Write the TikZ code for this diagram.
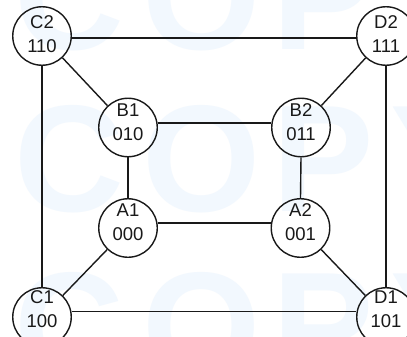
\documentclass[tikz,border=0pt]{standalone}
\usepackage{fontspec}
\setmainfont{Liberation Sans}
\definecolor{wm}{RGB}{242,248,254}
\definecolor{ink}{RGB}{25,25,25}
\begin{document}
\begin{tikzpicture}[x=1pt,y=-1pt,
  vertex/.style={circle, draw=ink, line width=1.4pt, minimum size=58.5pt, inner sep=0pt},
  lbl/.style={align=center, font=\fontsize{18.5}{24}\selectfont, text=ink, inner sep=0pt},
  edge/.style={draw=ink, line width=1.4pt},
  wmark/.style={font=\fontsize{152}{152}\bfseries\selectfont, text=wm, anchor=base west, inner sep=0pt}]
\path[use as bounding box, clip] (0,0) rectangle (407,337);
\fill[white] (0,0) rectangle (407,337);
% watermark
\foreach \r/\y in {1/50, 2/211, 3/378}{
  \node[wmark] (wC\r) at (14,\y) {C};
  \node[wmark] (wO\r) at (142,\y) {O};
  \node[wmark] (wP\r) at (272,\y) {P};
  \node[wmark] (wY\r) at (390,\y) {Y};
}
% vertices
\node[vertex, label={[lbl, yshift=2pt]center:{C2\\110}}] (C2) at (42,36) {};
\node[vertex, label={[lbl, yshift=2pt]center:{D2\\111}}] (D2) at (386,36) {};
\node[vertex, label={[lbl, yshift=5pt]center:{B1\\010}}] (B1) at (128,127.5) {};
\node[vertex, label={[lbl, yshift=5pt]center:{B2\\011}}] (B2) at (301,127.5) {};
\node[vertex, label={[lbl, yshift=5.5pt]center:{A1\\000}}] (A1) at (128,228) {};
\node[vertex, label={[lbl, yshift=5.5pt]center:{A2\\001}}] (A2) at (300.5,228) {};
\node[vertex, label={[lbl, yshift=8pt]center:{C1\\100}}] (C1) at (42,317) {};
\node[vertex, label={[lbl, yshift=8pt]center:{D1\\101}}] (D1) at (386,317) {};
% edges
\draw[edge] ([yshift=-2pt]C2.east) -- ([yshift=-2pt]D2.west);
\draw[edge] ([yshift=4.5pt]B1.east) -- ([yshift=4.5pt]B2.west);
\draw[edge] ([yshift=5pt]A1.east) -- ([yshift=5pt]A2.west);
\draw[edge] ([yshift=5.5pt]C1.east) -- ([yshift=5.5pt]D1.west);
\draw[edge] (C2.south) -- (C1.north);
\draw[edge] (D2.south) -- (D1.north);
\draw[edge] (B1.south) -- (A1.north);
\draw[edge] (B2.south) -- (A2.north);
\draw[edge] (C2) -- (B1);
\draw[edge] (D2) -- (B2);
\draw[edge] (A1) -- (C1);
\draw[edge] (A2) -- (D1);
\end{tikzpicture}
\end{document}
